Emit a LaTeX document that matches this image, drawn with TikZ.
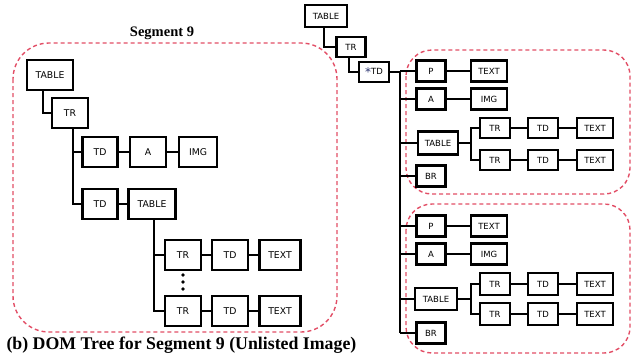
\documentclass[tikz,border=0pt]{standalone}
\usepackage{fontspec}
\setmainfont{Liberation Serif}
\newfontfamily\boxfont{DejaVu Sans}
\definecolor{dashred}{RGB}{226,78,102}
\definecolor{starblue}{RGB}{40,50,110}
\begin{document}
\begin{tikzpicture}[x=1pt,y=-1pt,
  bigbox/.style={draw=black,line width=2.2pt,minimum height=30pt,inner sep=0pt,
    font=\boxfont\fontsize{9.3}{10}\selectfont},
  smallbox/.style={draw=black,line width=2.2pt,minimum height=21pt,inner sep=0pt,
    font=\boxfont\fontsize{8.5}{9}\selectfont},
  conn/.style={line width=2.2pt,black},
  group/.style={draw=dashred,line width=1.4pt,dash pattern=on 4pt off 3pt},
  title/.style={font=\bfseries\fontsize{14.5}{16}\selectfont},
  caption/.style={font=\bfseries\fontsize{17.8}{19}\selectfont}]
\useasboundingbox (0,0) rectangle (631,357);

% ---------- left tree ----------
\draw[group,rounded corners=36pt] (13,43) rectangle (337,332);
\node[title] (seg) at (162,33) {Segment 9};

\node[bigbox,minimum width=46pt] (t1) at (50,75) {TABLE};
\node[bigbox,minimum width=36pt] (r1) at (70,113) {TR};
\node[bigbox,minimum width=35pt] (d1) at (100,152) {TD};
\node[bigbox,minimum width=36pt] (a1) at (148,152) {A};
\node[bigbox,minimum width=38pt] (i1) at (198,152) {IMG};
\node[bigbox,minimum width=35pt] (d2) at (100,204) {TD};
\node[bigbox,minimum width=47pt] (t2) at (152,204) {TABLE};
\node[bigbox,minimum width=36pt] (r2) at (183,255) {TR};
\node[bigbox,minimum width=36pt] (d3) at (230,255) {TD};
\node[bigbox,minimum width=41pt] (x1) at (280,255) {TEXT};
\node[bigbox,minimum width=36pt] (r3) at (183,311) {TR};
\node[bigbox,minimum width=36pt] (d4) at (230,311) {TD};
\node[bigbox,minimum width=41pt] (x2) at (280,311) {TEXT};

\draw[conn] ([xshift=-7pt]t1.south) |- (r1.west);
\draw[conn] ([xshift=3pt]r1.south) |- (d1.west);
\draw[conn] ([xshift=3pt]r1.south) |- (d2.west);
\draw[conn] (d1) -- (a1);
\draw[conn] (a1) -- (i1);
\draw[conn] (d2) -- (t2);
\draw[conn] ([xshift=2pt]t2.south) |- (r2.west);
\draw[conn] ([xshift=2pt]t2.south) |- (r3.west);
\draw[conn] (r2) -- (d3);
\draw[conn] (d3) -- (x1);
\draw[conn] (r3) -- (d4);
\draw[conn] (d4) -- (x2);
\foreach \yy in {275,282,289} \fill (183,\yy) circle (1.8pt);

\node[caption,anchor=west] (cap) at (3,345) {(b) DOM Tree for Segment 9 (Unlisted Image)};

% ---------- right tree ----------
\draw[group,rounded corners=26pt] (406,50) rectangle (630,194);
\draw[group,rounded corners=26pt] (406,204) rectangle (630,353);

\node[smallbox,minimum width=42pt,minimum height=22pt] (T) at (326,16) {TABLE};
\node[smallbox,minimum width=29pt,minimum height=20pt] (R) at (351,47) {TR};
\node[smallbox,minimum width=30pt,minimum height=20pt] (D) at (374,72) {{\color{starblue}\raisebox{-0.35ex}{\large *}}TD};
\coordinate (bus) at (400,0);

% group 1
\node[smallbox,minimum width=29pt] (p1) at (431,71) {P};
\node[smallbox,minimum width=36pt] (tx1) at (489,71) {TEXT};
\node[smallbox,minimum width=29pt] (aa1) at (431,99) {A};
\node[smallbox,minimum width=36pt] (im1) at (489,99) {IMG};
\node[smallbox,minimum width=40pt,minimum height=23pt] (tb1) at (438,143) {TABLE};
\node[smallbox,minimum width=29pt] (br1) at (431,176) {BR};
\node[smallbox,minimum width=30pt,minimum height=20pt] (ra1) at (495,128) {TR};
\node[smallbox,minimum width=30pt,minimum height=20pt] (da1) at (543,128) {TD};
\node[smallbox,minimum width=36pt,minimum height=20pt] (xa1) at (595,128) {TEXT};
\node[smallbox,minimum width=30pt,minimum height=20pt] (rb1) at (495,160) {TR};
\node[smallbox,minimum width=30pt,minimum height=20pt] (db1) at (543,160) {TD};
\node[smallbox,minimum width=36pt,minimum height=20pt] (xb1) at (595,160) {TEXT};

% group 2
\node[smallbox,minimum width=29pt] (p2) at (431,226) {P};
\node[smallbox,minimum width=36pt] (tx2) at (489,226) {TEXT};
\node[smallbox,minimum width=29pt] (aa2) at (431,254) {A};
\node[smallbox,minimum width=36pt] (im2) at (489,254) {IMG};
\node[smallbox,minimum width=42pt,minimum height=22pt] (tb2) at (436,299) {TABLE};
\node[smallbox,minimum width=29pt] (br2) at (431,333) {BR};
\node[smallbox,minimum width=30pt,minimum height=22pt] (ra2) at (495,284) {TR};
\node[smallbox,minimum width=30pt,minimum height=22pt] (da2) at (543,284) {TD};
\node[smallbox,minimum width=36pt,minimum height=22pt] (xa2) at (595,284) {TEXT};
\node[smallbox,minimum width=30pt,minimum height=22pt] (rb2) at (495,314) {TR};
\node[smallbox,minimum width=30pt,minimum height=22pt] (db2) at (543,314) {TD};
\node[smallbox,minimum width=36pt,minimum height=22pt] (xb2) at (595,314) {TEXT};

\draw[conn] ([xshift=-2pt]T.south) |- (R.west);
\draw[conn] ([xshift=-2pt]R.south) |- (D.west);
\draw[conn] (D.east) -- (bus |- D.east);
\draw[conn] (bus |- D.east) -- (bus |- br2.west);
\foreach \n in {p1,aa1,tb1,br1,p2,aa2,tb2,br2}
  \draw[conn] (bus |- \n.west) -- (\n.west);
\draw[conn] (p1) -- (tx1);
\draw[conn] (aa1) -- (im1);
\draw[conn] (p2) -- (tx2);
\draw[conn] (aa2) -- (im2);
\draw[conn] (tb1.east) -- ++(12pt,0) |- (ra1.west);
\draw[conn] (tb1.east) -- ++(12pt,0) |- (rb1.west);
\draw[conn] (tb2.east) -- ++(13pt,0) |- (ra2.west);
\draw[conn] (tb2.east) -- ++(13pt,0) |- (rb2.west);
\draw[conn] (ra1) -- (da1);
\draw[conn] (da1) -- (xa1);
\draw[conn] (rb1) -- (db1);
\draw[conn] (db1) -- (xb1);
\draw[conn] (ra2) -- (da2);
\draw[conn] (da2) -- (xa2);
\draw[conn] (rb2) -- (db2);
\draw[conn] (db2) -- (xb2);
\end{tikzpicture}
\end{document}
